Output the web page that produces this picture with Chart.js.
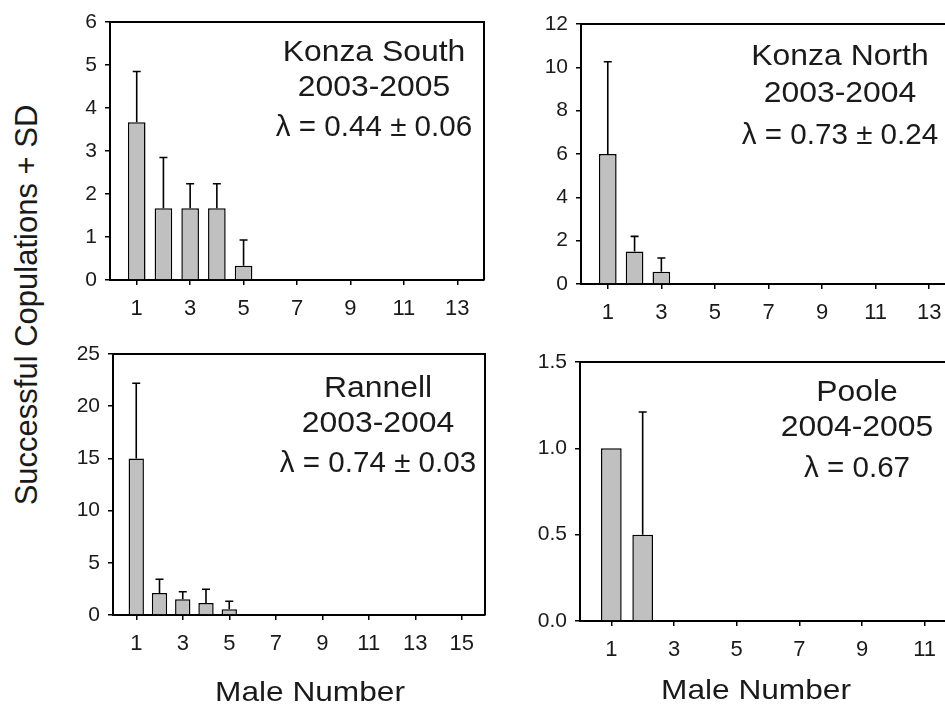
<!DOCTYPE html>
<html>
<head>
<meta charset="utf-8">
<title>Successful copulations by male number</title>
<script src="https://cdn.jsdelivr.net/npm/chart.js@4.4.1/dist/chart.umd.min.js"></script>
<style>
  html, body { margin: 0; padding: 0; background: #fff; width: 945px; height: 707px; overflow: hidden; position: relative; }
  canvas { position: absolute; }
  #yTitle {
    position: absolute; left: 27px; top: 305px;
    font-family: "Liberation Sans", Arial, sans-serif; font-size: 31px; color: #1a1a1a;
    white-space: nowrap; transform: translate(-50%, -50%) rotate(-90deg);
  }
</style>
</head>
<body>
<div id="yTitle">Successful Copulations + SD</div>
<canvas id="konzaSouth" width="500" height="330" style="left:0;top:0"></canvas>
<canvas id="konzaNorth" width="480" height="330" style="left:500px;top:0"></canvas>
<canvas id="rannell" width="500" height="377" style="left:0;top:330px"></canvas>
<canvas id="poole" width="480" height="377" style="left:500px;top:330px"></canvas>
<script>
// Konza South 2003-2005
const ksMales = [1, 2, 3, 4, 5];
const ksCopulations = [3.67, 1.67, 1.67, 1.67, 0.33];
const ksSD = [1.18, 1.18, 0.57, 0.57, 0.6];

// Konza North 2003-2004
const knMales = [1, 2, 3];
const knCopulations = [6.0, 1.5, 0.57];
const knSD = [4.26, 0.7, 0.63];

// Rannell 2003-2004
const raMales = [1, 2, 3, 4, 5];
const raCopulations = [15.0, 2.1, 1.5, 1.15, 0.55];
const raSD = [7.2, 1.32, 0.73, 1.31, 0.76];

// Poole 2004-2005
const poMales = [1, 2];
const poCopulations = [1.0, 0.5];
const poSD = [0, 0.71];

// tick labels
const xTicksKonza = [1, 3, 5, 7, 9, 11, 13];
const xTicksRannell = [1, 3, 5, 7, 9, 11, 13, 15];
const xTicksPoole = [1, 3, 5, 7, 9, 11];
const yTicksKS = [0, 1, 2, 3, 4, 5, 6];
const yTicksKN = [0, 2, 4, 6, 8, 10, 12];
const yTicksRA = [0, 5, 10, 15, 20, 25];
const yTicksPO = [0, 0.5, 1.0, 1.5];

const xTitle = 'Male Number';

Chart.defaults.font.family = '"Liberation Sans", Arial, sans-serif';
Chart.defaults.color = '#1a1a1a';

// error bars: line up from bar top plus a cap
const errorBars = {
    id: 'errorBars',
    afterDatasetsDraw(chart, args, opts) {
        const { ctx, scales: { x, y } } = chart;
        const pts = chart.data.datasets[0].data;
        ctx.save();
        ctx.strokeStyle = '#000';
        ctx.lineWidth = 1.6;
        pts.forEach((pt, i) => {
            const sd = opts.sd[i];
            if (!sd) return;
            const px = x.getPixelForValue(pt.x);
            const y0 = y.getPixelForValue(pt.y);
            const y1 = y.getPixelForValue(pt.y + sd);
            ctx.beginPath();
            ctx.moveTo(px, y0);
            ctx.lineTo(px, y1);
            ctx.moveTo(px - 4, y1);
            ctx.lineTo(px + 4, y1);
            ctx.stroke();
        });
        ctx.restore();
    }
};

// top and right sides of the box
const frame = {
    id: 'frame',
    afterDraw(chart) {
        const { ctx, chartArea: a } = chart;
        ctx.save();
        ctx.strokeStyle = '#000';
        ctx.lineWidth = 2;
        ctx.beginPath();
        ctx.moveTo(a.left, a.top);
        ctx.lineTo(a.right, a.top);
        ctx.lineTo(a.right, a.bottom);
        ctx.stroke();
        ctx.restore();
    }
};

// site / year / lambda text and the x title
const lineStretch = [1.1, 1.1, 1.02];
const notes = {
    id: 'notes',
    afterDraw(chart, args, opts) {
        const { ctx, chartArea: a } = chart;
        ctx.save();
        ctx.fillStyle = '#1a1a1a';
        ctx.textAlign = 'center';
        ctx.textBaseline = 'middle';
        ctx.font = '29px "Liberation Sans", Arial, sans-serif';
        opts.lines.forEach((t, i) => {
            ctx.save();
            ctx.translate(a.right - opts.dx, a.top + opts.dy[i]);
            ctx.scale(lineStretch[i], 1);
            ctx.fillText(t, 0, 0);
            ctx.restore();
        });
        if (opts.title) {
            ctx.font = '28px "Liberation Sans", Arial, sans-serif';
            ctx.translate(a.left + opts.title.dx, a.bottom + opts.title.dy);
            ctx.scale(1.13, 1);
            ctx.fillText(opts.title.text, 0, 0);
        }
        ctx.restore();
    }
};

function makePanel(id, p) {
    const points = p.males.map((m, i) => ({ x: m, y: p.values[i] }));
    return new Chart(document.getElementById(id), {
        type: 'bar',
        data: {
            datasets: [{
                data: points,
                backgroundColor: '#c0c0c0',
                borderColor: '#000',
                borderWidth: 1.5,
                barPercentage: 0.66,
                categoryPercentage: 1
            }]
        },
        options: {
            responsive: false,
            animation: false,
            layout: { padding: { top: p.padTop, right: p.padRight, left: 0, bottom: 0 } },
            plugins: {
                legend: { display: false },
                tooltip: { enabled: false },
                errorBars: { sd: p.sd },
                notes: { lines: p.lines, dx: p.noteDx, dy: p.noteDy, title: p.title }
            },
            scales: {
                x: {
                    type: 'linear',
                    min: 0,
                    max: p.xMax,
                    offset: false,
                    afterBuildTicks: s => { s.ticks = p.xTicks.map(v => ({ value: v })); },
                    afterFit: s => { s.height = p.xHeight; },
                    ticks: { autoSkip: false, maxRotation: 0, padding: 11, font: { size: 22 } },
                    grid: { offset: false, drawOnChartArea: false, color: '#000', tickLength: 5, lineWidth: 1.5 },
                    border: { color: '#000', width: 2 }
                },
                y: {
                    min: 0,
                    max: p.yTicks[p.yTicks.length - 1],
                    afterBuildTicks: s => { s.ticks = p.yTicks.map(v => ({ value: v })); },
                    afterFit: s => { s.width = p.yWidth; },
                    ticks: {
                        autoSkip: false,
                        padding: 8,
                        font: { size: 21 },
                        callback: v => v.toFixed(p.decimals)
                    },
                    grid: { drawOnChartArea: false, color: '#000', tickLength: 5, lineWidth: 1.5 },
                    border: { color: '#000', width: 2 }
                }
            }
        },
        plugins: [errorBars, frame, notes]
    });
}

makePanel('konzaSouth', {
    males: ksMales, values: ksCopulations, sd: ksSD,
    xTicks: xTicksKonza, xMax: 14, yTicks: yTicksKS, decimals: 0,
    yWidth: 110, padTop: 22, padRight: 16, xHeight: 50,
    lines: ['Konza South', '2003-2005', '\u03bb = 0.44 \u00b1 0.06'],
    noteDx: 110, noteDy: [31, 66, 106]
});

makePanel('konzaNorth', {
    males: knMales, values: knCopulations, sd: knSD,
    xTicks: xTicksKonza, xMax: 14, yTicks: yTicksKN, decimals: 0,
    yWidth: 81, padTop: 24, padRight: 24, xHeight: 46,
    lines: ['Konza North', '2003-2004', '\u03bb = 0.73 \u00b1 0.24'],
    noteDx: 116, noteDy: [33, 70, 112]
});

makePanel('rannell', {
    males: raMales, values: raCopulations, sd: raSD,
    xTicks: xTicksRannell, xMax: 16, yTicks: yTicksRA, decimals: 0,
    yWidth: 113, padTop: 24, padRight: 15, xHeight: 92,
    lines: ['Rannell', '2003-2004', '\u03bb = 0.74 \u00b1 0.03'],
    noteDx: 107, noteDy: [35, 70, 110],
    title: { text: xTitle, dx: 197, dy: 78 }
});

makePanel('poole', {
    males: poMales, values: poCopulations, sd: poSD,
    xTicks: xTicksPoole, xMax: 12, yTicks: yTicksPO, decimals: 1,
    yWidth: 80, padTop: 32, padRight: 24, xHeight: 86,
    lines: ['Poole', '2004-2005', '\u03bb = 0.67'],
    noteDx: 99, noteDy: [31, 66, 107],
    title: { text: xTitle, dx: 176, dy: 70 }
});
</script>
</body>
</html>
